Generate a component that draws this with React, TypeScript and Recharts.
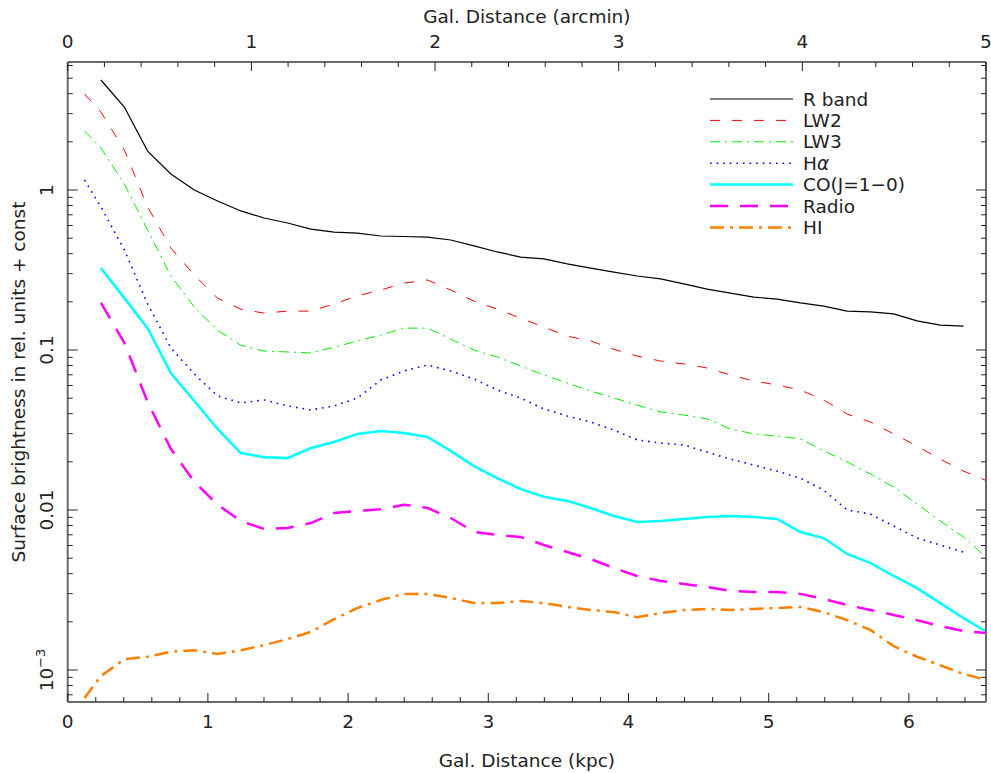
import { LineChart, Line, XAxis, YAxis, Legend } from "recharts";

// radial profiles, sampled on a common grid (kpc)
const distanceKpc = [
  0.12, 0.237, 0.404, 0.57, 0.736, 0.903, 1.069, 1.235, 1.401, 1.568, 1.734, 1.9, 2.067, 2.233,
  2.399, 2.566, 2.732, 2.898, 3.064, 3.231, 3.397, 3.563, 3.73, 3.896, 4.062, 4.229, 4.395,
  4.561, 4.727, 4.894, 5.06, 5.226, 5.393, 5.559, 5.725, 5.892, 6.058, 6.224, 6.39, 6.557,
];

const rBand = [
  null, 4.87, 3.3, 1.75, 1.26, 1.0, 0.853, 0.74, 0.668, 0.622, 0.57, 0.546, 0.538, 0.516, 0.512,
  0.508, 0.487, 0.447, 0.41, 0.381, 0.371, 0.345, 0.325, 0.307, 0.29, 0.278, 0.259, 0.24, 0.227,
  0.214, 0.208, 0.197, 0.188, 0.175, 0.173, 0.168, 0.152, 0.143, 0.141, null,
];

const lw2 = [
  3.98, 3.07, 1.78, 0.783, 0.434, 0.294, 0.211, 0.18, 0.17, 0.175, 0.175, 0.194, 0.218, 0.237,
  0.262, 0.274, 0.237, 0.202, 0.18, 0.158, 0.139, 0.122, 0.114, 0.101, 0.0917, 0.0853, 0.0818,
  0.0772, 0.0698, 0.064, 0.0604, 0.0562, 0.0487, 0.0398, 0.0355, 0.0299, 0.0251, 0.0208, 0.0175,
  0.0152,
];

const lw3 = [
  2.34, 1.83, 1.09, 0.562, 0.29, 0.186, 0.133, 0.107, 0.0986, 0.0972, 0.0958, 0.104, 0.114, 0.124,
  0.137, 0.137, 0.117, 0.1, 0.0904, 0.0794, 0.0698, 0.0622, 0.0554, 0.0501, 0.0453, 0.041, 0.0392,
  0.0371, 0.0321, 0.0299, 0.029, 0.0278, 0.0234, 0.02, 0.0168, 0.0139, 0.0109, 0.00853, 0.00678,
  0.00501,
];

const hAlpha = [
  1.155, 0.783, 0.422, 0.194, 0.103, 0.0708, 0.0516, 0.0467, 0.0487, 0.0447, 0.0422, 0.0447,
  0.0501, 0.0649, 0.0739, 0.0806, 0.0739, 0.0659, 0.0562, 0.0501, 0.0428, 0.0387, 0.0355, 0.0316,
  0.0274, 0.0262, 0.0255, 0.023, 0.0208, 0.0191, 0.0175, 0.0158, 0.0133, 0.01, 0.00944, 0.00794,
  0.00668, 0.00604, 0.00546, null,
];

const co = [
  null, 0.325, 0.211, 0.137, 0.0718, 0.048, 0.0321, 0.0227, 0.0214, 0.0211, 0.0244, 0.0266,
  0.0299, 0.0312, 0.0303, 0.0286, 0.0234, 0.0188, 0.0158, 0.0135, 0.0121, 0.0114, 0.0103, 0.00917,
  0.00841, 0.00854, 0.00879, 0.00904, 0.00917, 0.00904, 0.00879, 0.00729, 0.00668, 0.00531,
  0.00467, 0.00387, 0.00325, 0.00262, 0.00211, 0.00173,
];

const radio = [
  null, 0.197, 0.111, 0.0473, 0.0241, 0.015, 0.0108, 0.00853, 0.00761, 0.00772, 0.00829, 0.00958,
  0.00986, 0.0101, 0.0108, 0.0103, 0.00891, 0.00729, 0.00698, 0.00678, 0.00604, 0.00546, 0.00494,
  0.00434, 0.00387, 0.0036, 0.00345, 0.0033, 0.00312, 0.00307, 0.00307, 0.00299, 0.00278, 0.00255,
  0.00237, 0.00221, 0.00205, 0.00188, 0.00175, 0.0017,
];

const hi = [
  0.000668, 0.000917, 0.00117, 0.00121, 0.0013, 0.00133, 0.00126, 0.00133, 0.00143, 0.00156,
  0.00173, 0.00208, 0.00244, 0.00274, 0.00299, 0.00299, 0.00282, 0.00262, 0.00262, 0.0027,
  0.00262, 0.00248, 0.00237, 0.0023, 0.00214, 0.00227, 0.00237, 0.00241, 0.00237, 0.00241,
  0.00244, 0.00248, 0.0023, 0.00205, 0.00178, 0.00141, 0.00121, 0.00107, 0.000944, 0.000866,
];

const kpcTicks = [
  0, 0.2, 0.4, 0.6, 0.8, 1, 1.2, 1.4, 1.6, 1.8, 2, 2.2, 2.4, 2.6, 2.8, 3, 3.2, 3.4, 3.6, 3.8, 4,
  4.2, 4.4, 4.6, 4.8, 5, 5.2, 5.4, 5.6, 5.8, 6, 6.2, 6.4,
];

const arcminTicks = [
  0, 0.2, 0.4, 0.6, 0.8, 1, 1.2, 1.4, 1.6, 1.8, 2, 2.2, 2.4, 2.6, 2.8, 3, 3.2, 3.4, 3.6, 3.8, 4,
  4.2, 4.4, 4.6, 4.8, 5,
];

const brightnessTicks = [
  0.0007, 0.0008, 0.0009, 0.001, 0.002, 0.003, 0.004, 0.005, 0.006, 0.007, 0.008, 0.009, 0.01,
  0.02, 0.03, 0.04, 0.05, 0.06, 0.07, 0.08, 0.09, 0.1, 0.2, 0.3, 0.4, 0.5, 0.6, 0.7, 0.8, 0.9, 1,
  2, 3, 4, 5, 6,
];

const series = [
  { key: "rBand", name: "R band", color: "#000000", width: 1.2, dash: undefined },
  { key: "lw2", name: "LW2", color: "#ff0000", width: 1, dash: "10 12" },
  { key: "lw3", name: "LW3", color: "#00ee00", width: 1, dash: "10 5 2 5" },
  { key: "hAlpha", name: "Hα", color: "#0000ff", width: 1.6, dash: "1.6 5" },
  { key: "co", name: "CO(J=1−0)", color: "#00ffff", width: 2.5, dash: undefined },
  { key: "radio", name: "Radio", color: "#ff00ff", width: 2.5, dash: "18 12" },
  { key: "hi", name: "HI", color: "#ff8000", width: 2.5, dash: "14 6 3 6" },
];

const rows = distanceKpc.map((d, i) => ({
  d,
  arc: d / 1.31,
  rBand: rBand[i],
  lw2: lw2[i],
  lw3: lw3[i],
  hAlpha: hAlpha[i],
  co: co[i],
  radio: radio[i],
  hi: hi[i],
}));

const FONT = "'DejaVu Sans', sans-serif";
const INK = "#222";
const FS = 18.5;
const frame = { stroke: "#6a6a6a", strokeWidth: 2 };

const isWhole = (v: number) => Math.abs(v - Math.round(v)) < 1e-6;
const isDecade = (v: number) => isWhole(Math.log10(v));

function BottomTick({ x, y, payload }: any) {
  const major = isWhole(payload.value);
  return (
    <g>
      <line x1={x} y1={y} x2={x} y2={y - (major ? 9 : 5)} stroke={INK} />
      {major && (
        <text x={x} y={y + 26} textAnchor="middle" fontFamily={FONT} fontSize={FS} fill={INK}>
          {Math.round(payload.value)}
        </text>
      )}
    </g>
  );
}

function TopTick({ x, y, payload }: any) {
  const major = isWhole(payload.value);
  return (
    <g>
      <line x1={x} y1={y} x2={x} y2={y + (major ? 9 : 5)} stroke={INK} />
      {major && (
        <text x={x} y={y - 14} textAnchor="middle" fontFamily={FONT} fontSize={FS} fill={INK}>
          {Math.round(payload.value)}
        </text>
      )}
    </g>
  );
}

function decadeText(v: number) {
  if (v < 0.005)
    return (
      <>
        10
        <tspan dy={-8} fontSize={13}>
          −3
        </tspan>
      </>
    );
  if (v < 0.05) return "0.01";
  if (v < 0.5) return "0.1";
  return "1";
}

function LeftTick({ x, y, payload }: any) {
  const major = isDecade(payload.value);
  return (
    <g>
      <line x1={x} y1={y} x2={x + (major ? 10 : 5)} y2={y} stroke={INK} />
      {major && (
        <text
          transform={`translate(${x - 15},${y}) rotate(-90)`}
          textAnchor="middle"
          fontFamily={FONT}
          fontSize={FS}
          fill={INK}
        >
          {decadeText(payload.value)}
        </text>
      )}
    </g>
  );
}

function RightTick({ x, y, payload }: any) {
  const major = isDecade(payload.value);
  return <line x1={x} y1={y} x2={x - (major ? 10 : 5)} y2={y} stroke={INK} />;
}

function BottomTitle({ viewBox }: any) {
  return (
    <text x={viewBox.x + viewBox.width / 2} y={viewBox.y + 65} textAnchor="middle" fontFamily={FONT} fontSize={FS} fill={INK}>
      Gal. Distance (kpc)
    </text>
  );
}

function TopTitle({ viewBox }: any) {
  return (
    <text x={viewBox.x + viewBox.width / 2} y={viewBox.y + 22.5} textAnchor="middle" fontFamily={FONT} fontSize={FS} fill={INK}>
      Gal. Distance (arcmin)
    </text>
  );
}

function LeftTitle({ viewBox }: any) {
  return (
    <text
      transform={`translate(${viewBox.x + 25},${viewBox.y + viewBox.height / 2}) rotate(-90)`}
      textAnchor="middle"
      fontFamily={FONT}
      fontSize={FS}
      fill={INK}
    >
      Surface brightness in rel. units + const
    </text>
  );
}

function LegendBox() {
  return (
    <svg width={290} height={160}>
      {series.map((s, i) => {
        const cy = 11 + i * 21.4;
        return (
          <g key={s.key}>
            <line
              x1={10}
              x2={93}
              y1={cy}
              y2={cy}
              stroke={s.color}
              strokeWidth={s.width}
              strokeDasharray={s.dash}
            />
            <text x={103} y={cy + 6.5} fontFamily={FONT} fontSize={FS} fill={INK}>
              {s.key === "hAlpha" ? (
                <>
                  H<tspan fontStyle="italic">α</tspan>
                </>
              ) : (
                s.name
              )}
            </text>
          </g>
        );
      })}
    </svg>
  );
}

export default function App() {
  return (
    <>
      <style>{"body{margin:0;background:#fff}"}</style>
      <LineChart width={991} height={773} data={rows} margin={{ top: 0, right: 0, bottom: 0, left: 0 }}>
        <XAxis
          xAxisId="kpc"
          dataKey="d"
          type="number"
          domain={[0, 6.55]}
          allowDataOverflow
          ticks={kpcTicks}
          interval={0}
          height={71}
          tickSize={0}
          tickMargin={0}
          tickLine={false}
          axisLine={frame}
          tick={<BottomTick />}
          label={<BottomTitle />}
        />
        <XAxis
          xAxisId="arcmin"
          dataKey="arc"
          orientation="top"
          type="number"
          domain={[0, 5]}
          allowDataOverflow
          ticks={arcminTicks}
          interval={0}
          height={62}
          tickSize={0}
          tickMargin={0}
          tickLine={false}
          axisLine={frame}
          tick={<TopTick />}
          label={<TopTitle />}
        />
        <YAxis
          yAxisId="sb"
          type="number"
          scale="log"
          domain={[0.000631, 6.31]}
          allowDataOverflow
          ticks={brightnessTicks}
          interval={0}
          width={67.7}
          tickSize={0}
          tickMargin={0}
          tickLine={false}
          axisLine={frame}
          tick={<LeftTick />}
          label={<LeftTitle />}
        />
        <YAxis
          yAxisId="sbRight"
          orientation="right"
          type="number"
          scale="log"
          domain={[0.000631, 6.31]}
          allowDataOverflow
          ticks={brightnessTicks}
          interval={0}
          width={5}
          tickSize={0}
          tickMargin={0}
          tickLine={false}
          axisLine={frame}
          tick={<RightTick />}
        />
        {series.map((s) => (
          <Line
            key={s.key}
            xAxisId="kpc"
            yAxisId="sb"
            type="linear"
            dataKey={s.key}
            name={s.name}
            stroke={s.color}
            strokeWidth={s.width}
            strokeDasharray={s.dash}
            dot={false}
            activeDot={false}
            isAnimationActive={false}
          />
        ))}
        <Legend
          layout="vertical"
          align="center"
          verticalAlign="middle"
          wrapperStyle={{ left: 700, top: 88, width: 290 }}
          content={() => <LegendBox />}
        />
      </LineChart>
    </>
  );
}
